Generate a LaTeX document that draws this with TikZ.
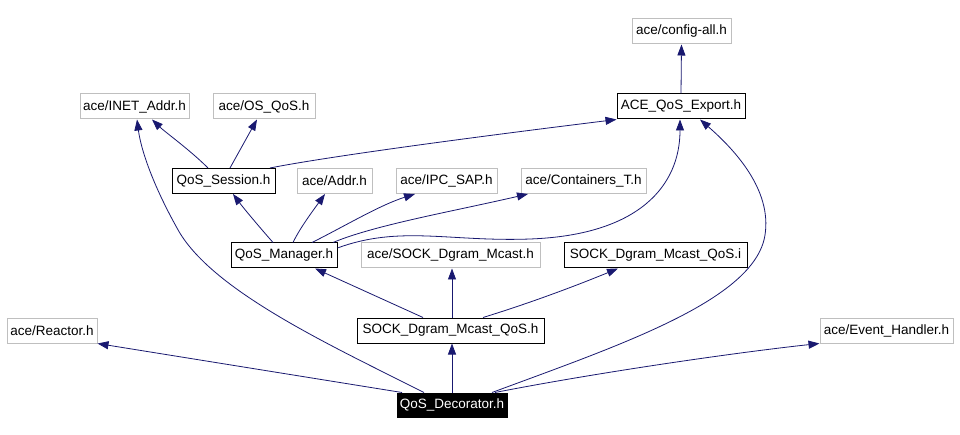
\documentclass[tikz,border=0pt]{standalone}
\usepackage{fontspec}
\setmainfont{Liberation Sans}
\usetikzlibrary{arrows.meta}
\definecolor{edgeblue}{HTML}{191970}
\definecolor{extgray}{HTML}{BFBFBF}
\begin{document}
\begin{tikzpicture}[x=1pt,y=-1pt,
  box/.style={draw=black,line width=1pt,inner sep=0pt,minimum height=25pt,font=\fontsize{13.5}{15}\selectfont,text=black,fill=white},
  extbox/.style={box,draw=extgray},
  curbox/.style={box,fill=black,text=white,draw=black},
  edge/.style={draw=edgeblue,line width=0.8pt,-{Triangle[length=11pt,width=8pt]}}]
\fill[white] (0,0) rectangle (960,435);
\useasboundingbox (0,0) rectangle (960,435);
% nodes
\node[extbox,minimum width=99pt] (cfg) at (681.5,31.5) {ace/config-all.h};
\node[box,minimum width=128pt] (export) at (681,106.5) {ACE\_QoS\_Export.h};
\node[extbox,minimum width=109pt] (inet) at (134.5,106.5) {ace/INET\_Addr.h};
\node[extbox,minimum width=102pt] (osqos) at (264,106.5) {ace/OS\_QoS.h};
\node[box,minimum width=103pt] (session) at (223.5,181) {QoS\_Session.h};
\node[extbox,minimum width=75pt] (addr) at (334.5,181) {ace/Addr.h};
\node[extbox,minimum width=101pt] (ipc) at (446.5,181) {ace/IPC\_SAP.h};
\node[extbox,minimum width=125pt] (cont) at (583.5,181) {ace/Containers\_T.h};
\node[box,minimum width=106pt] (manager) at (284,255.5) {QoS\_Manager.h};
\node[extbox,minimum width=179pt] (mcast) at (450.5,255.5) {ace/SOCK\_Dgram\_Mcast.h};
\node[box,minimum width=183pt] (mqosi) at (655.5,255.5) {SOCK\_Dgram\_Mcast\_QoS.i};
\node[extbox,minimum width=90pt] (reactor) at (52,330.5) {ace/Reactor.h};
\node[box,minimum width=187pt] (mqosh) at (450.5,330.5) {SOCK\_Dgram\_Mcast\_QoS.h};
\node[extbox,minimum width=133pt] (evh) at (886.5,330.5) {ace/Event\_Handler.h};
\node[curbox,minimum width=110pt,minimum height=24pt] (deco) at (452,405) {QoS\_Decorator.h};
% edges
\draw[edge] (export.north) -- (cfg.south);
\draw[edge] ([xshift=-15.5pt]session.north) .. controls (190,150) and (165,132) .. ([xshift=17.5pt]inet.south);
\draw[edge] ([xshift=6.5pt]session.north) .. controls (240,150) and (250,132) .. ([xshift=-7pt]osqos.south);
\draw[edge] ([xshift=46.5pt]session.north) .. controls (320,158) and (450,140) .. (export.south west);
\draw[edge] ([xshift=-28pt]deco.north) .. controls (330,345) and (210,290) .. (177,228) .. controls (153,185) and (141,150) .. ([xshift=2.5pt]inet.south);
\draw[edge] ([xshift=-11pt]manager.north) .. controls (262,230) and (245,210) .. ([xshift=9.5pt]session.south);
\draw[edge] ([xshift=9pt]manager.north) .. controls (300,228) and (312,212) .. ([xshift=-9.5pt]addr.south);
\draw[edge] ([xshift=28pt]manager.north) .. controls (345,226) and (380,205) .. ([xshift=-31.5pt]ipc.south);
\draw[edge] ([xshift=49pt]manager.north) .. controls (375,225) and (450,212) .. ([xshift=-55.5pt]cont.south);
\draw[edge] ([yshift=7.5pt]manager.east) .. controls (400,225) and (450,242) .. (530,239) .. controls (640,235) and (680,185) .. ([xshift=-1pt]export.south);
\draw[edge] ([xshift=-27.5pt]mqosh.north) -- ([xshift=31pt]manager.south);
\draw[edge] ([xshift=1.5pt]mqosh.north) -- ([xshift=1.5pt]mcast.south);
\draw[edge] ([xshift=32.5pt]mqosh.north) .. controls (540,300) and (590,280) .. ([xshift=-37.5pt]mqosi.south);
\draw[edge] ([xshift=-50pt]deco.north) -- (reactor.south east);
\draw[edge] (deco.north) -- ([xshift=1.5pt]mqosh.south);
\draw[edge] ([xshift=40pt]deco.north) .. controls (620,345) and (755,300) .. (765,235) .. controls (772,190) and (735,150) .. ([xshift=19pt]export.south);
\draw[edge] ([xshift=43pt]deco.north) .. controls (600,372) and (740,352) .. (evh.south west);
\end{tikzpicture}
\end{document}
